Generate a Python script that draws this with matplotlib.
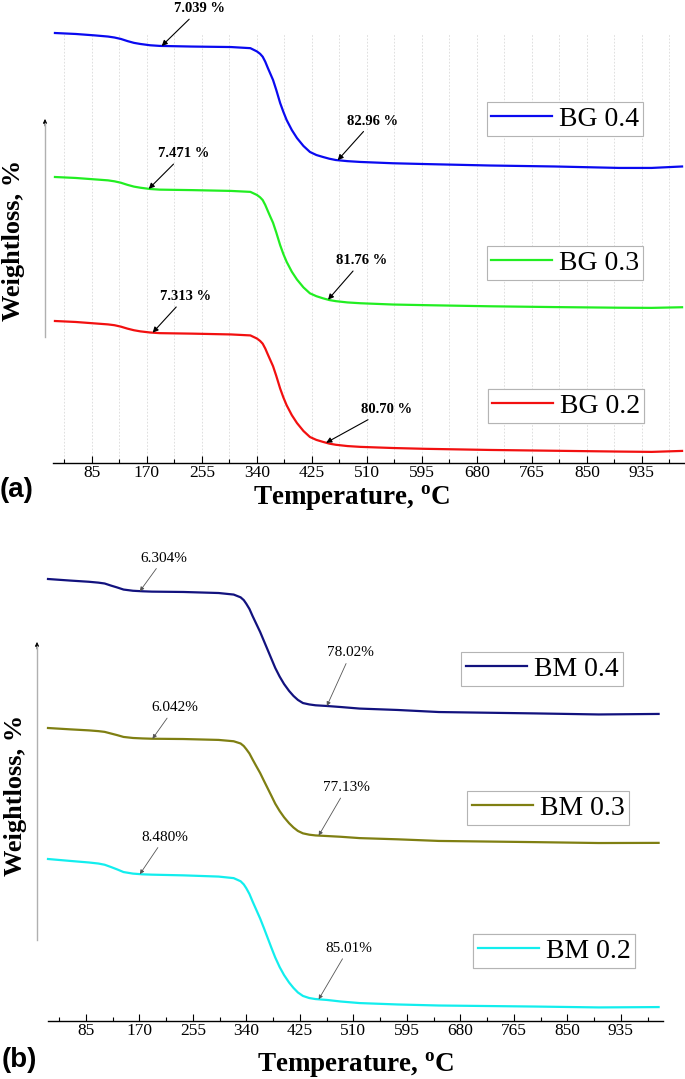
import numpy as np
import matplotlib
matplotlib.use('Agg')
import matplotlib.pyplot as plt
from matplotlib.lines import Line2D
from matplotlib.ticker import MultipleLocator

plt.rcParams['font.family'] = ['Liberation Serif', 'DejaVu Serif']
plt.rcParams['mathtext.fontset'] = 'custom'
plt.rcParams['mathtext.bf'] = 'Liberation Serif:bold'
plt.rcParams['mathtext.rm'] = 'Liberation Serif:bold'

# ---- data (weight %, start = 100) ----
temp_a = [28, 60, 90, 110, 120, 130, 140, 150, 160, 175, 190, 240, 300, 330, 340, 345, 349,
          353, 357, 361, 365, 370, 376, 381, 386, 394, 402, 412, 422, 432, 442, 452, 462,
          480, 500, 550, 600, 700, 800, 900, 950, 997]
bg04 = [100.0, 99.4, 98.5, 97.8, 97.2, 96.3, 95.0, 93.9, 93.2, 92.4, 92.0, 91.6, 91.3, 90.6,
        88.6, 87.1, 85.3, 82.2, 78.3, 74.6, 70.9, 64.7, 56.6, 51.1, 46.1, 39.9, 34.9, 30.0,
        26.3, 24.4, 23.2, 22.1, 21.3, 20.6, 20.1, 19.3, 18.8, 17.9, 17.3, 16.4, 16.4, 17.3]
bg03 = [100.0, 99.4, 98.5, 97.9, 97.3, 96.4, 95.1, 94.0, 93.3, 92.5, 92.1, 91.8, 91.3, 90.7,
        88.8, 87.3, 85.6, 82.5, 78.7, 75.0, 71.4, 65.3, 57.4, 51.8, 47.0, 40.8, 35.9, 31.0,
        27.3, 25.5, 24.2, 23.1, 22.4, 21.6, 21.1, 20.3, 19.9, 19.2, 18.7, 18.3, 18.2, 18.6]
bg02 = [100.0, 99.4, 98.5, 97.9, 97.4, 96.5, 95.3, 94.3, 93.6, 92.9, 92.5, 92.2, 91.7, 91.1,
        89.2, 87.7, 86.0, 83.0, 79.3, 75.7, 72.1, 66.1, 58.3, 52.8, 48.0, 41.9, 37.0, 32.1,
        28.4, 26.6, 25.4, 24.3, 23.6, 22.8, 22.3, 21.6, 21.1, 20.4, 19.9, 19.4, 19.2, 19.8]

temp_b = [25, 60, 90, 105, 115, 125, 135, 145, 160, 175, 190, 240, 296, 320, 331, 336, 340,
          345, 350, 356, 362, 368, 374, 380, 386, 393, 400, 408, 415, 422, 430, 440, 450,
          468, 490, 520, 580, 646, 800, 900, 995]
bm04 = [100.0, 99.1, 98.4, 97.9, 97.4, 96.2, 95.1, 93.9, 93.2, 92.9, 92.7, 92.5, 91.9, 91.0,
        89.4, 87.8, 85.7, 82.7, 78.6, 74.0, 69.4, 64.2, 59.0, 53.8, 48.6, 43.6, 39.3, 35.3,
        32.4, 30.1, 28.3, 27.5, 27.0, 26.6, 26.0, 25.1, 24.3, 23.1, 22.3, 21.7, 22.0]
bm03 = [100.0, 99.1, 98.4, 97.9, 97.4, 96.3, 95.2, 94.0, 93.3, 93.0, 92.8, 92.6, 92.0, 91.1,
        89.6, 87.9, 85.8, 82.9, 78.9, 74.3, 69.8, 64.6, 59.5, 54.4, 49.2, 44.3, 40.1, 36.1,
        33.2, 30.9, 29.3, 28.4, 27.9, 27.5, 27.0, 26.1, 25.3, 24.2, 23.4, 22.8, 22.9]
bm02 = [100.0, 98.9, 98.0, 97.4, 96.7, 95.4, 94.0, 92.5, 91.6, 91.2, 91.0, 90.6, 89.9, 89.0,
        87.2, 85.4, 83.2, 79.9, 75.6, 70.7, 65.8, 60.3, 54.6, 48.9, 43.4, 37.9, 33.3, 29.0,
        25.9, 23.3, 21.3, 20.1, 19.5, 19.0, 18.1, 17.2, 16.4, 15.8, 15.2, 14.7, 14.9]

names_a = ['BG 0.4', 'BG 0.3', 'BG 0.2']
names_b = ['BM 0.4', 'BM 0.3', 'BM 0.2']
# first and second weight-loss step labels, with the temperature the arrow points at
step1_a = ['7.039 %', '7.471 %', '7.313 %']
step1_a_T = [193, 173, 179]
step2_a = ['82.96 %', '81.76 %', '80.70 %']
step2_a_T = [465, 450, 447]
step1_b = ['6.304%', '6.042%', '8.480%']
step1_b_T = [171, 191, 171]
step2_b = ['78.02%', '77.13%', '85.01%']
step2_b_T = [468, 455, 455]
ticks = [85, 170, 255, 340, 425, 510, 595, 680, 765, 850, 935]

# ---- layout (pixels) ----
W, H = 685, 1079
fig = plt.figure(figsize=(W / 100, H / 100), dpi=100)


def box(l, t, r, b):
    return [l / W, 1 - b / H, (r - l) / W, (b - t) / H]


def fxy(x, y):
    return (x / W, 1 - y / H)


ax1 = fig.add_axes(box(53, 33, 684, 463))
ax2 = fig.add_axes(box(48, 570, 663, 1021))

for ax, xl, yh in [(ax1, (25, 1000), 430), (ax2, (25, 1002), 451)]:
    ax.set_xlim(*xl)
    ax.set_ylim(0, yh)
    for s in ['top', 'right', 'left']:
        ax.spines[s].set_visible(False)
    ax.spines['bottom'].set_linewidth(1.0)
    ax.set_xticks(ticks)
    ax.xaxis.set_minor_locator(MultipleLocator(42.5))
    ax.set_yticks([])
    ax.tick_params(axis='x', which='major', direction='in', length=5, width=0.8,
                   labelsize=12.5, pad=1.5)
    ax.tick_params(axis='x', which='minor', direction='in', length=3, width=0.8)

ax1.grid(True, axis='x', which='both', color='#d9d9d9', linestyle=(0, (2, 2)), lw=0.6)
ax1.set_axisbelow(True)

colors_a = ['#0a0af0', '#22ee22', '#f21010']
colors_b = ['#12127e', '#7f7f12', '#12eeee']
tops_a = [430, 286, 142]
scale_a = [1.614, 1.60, 1.62]
tops_b = [442, 293, 162]
scale_b = [1.73, 1.49, 1.74]
leg_a = [(565, 119), (565, 263), (566, 406)]
leg_b = [(542, 669), (548, 808), (554, 951)]


def panel(ax, temp, series, names, colors, tops, scales, legs, s1, s1T, s2, s2T, bold):
    for w, name, c, top, k, lc, t1, T1, t2, T2 in zip(series, names, colors, tops, scales, legs,
                                                       s1, s1T, s2, s2T):
        y = top + k * (np.array(w) - 100)
        ln, = ax.plot(temp, y, color=c, lw=1.6, clip_on=False, solid_joinstyle='round')
        leg = ax.legend(handles=[ln], labels=[name], loc='center',
                        bbox_to_anchor=fxy(*lc), bbox_transform=fig.transFigure,
                        prop={'family': 'Liberation Serif', 'size': 20},
                        fancybox=False, framealpha=1, edgecolor='#b4b4b4',
                        handlelength=2.2, handletextpad=0.25, borderpad=0.15)
        leg.get_frame().set_linewidth(0.8)
        ax.add_artist(leg)
        if bold:
            offs = [(38, 37), (35, 39)] if name == 'BG 0.4' else \
                   [(35, 35), (34, 39)] if name == 'BG 0.3' else [(33, 36), (60, 33)]
            aprops = dict(arrowstyle='-|>', color='black', lw=0.8, mutation_scale=8,
                          shrinkA=1, shrinkB=0)
            fkw = dict(fontsize=10.5, fontweight='bold')
        else:
            offs = [(24, 33), (24, 53)] if name == 'BM 0.4' else \
                   [(22, 31), (28, 48)] if name == 'BM 0.3' else [(25, 37), (30, 51)]
            aprops = dict(arrowstyle='-|>', color='#555555', lw=0.6, mutation_scale=6,
                          shrinkA=1, shrinkB=0)
            fkw = dict(fontsize=11)
        for txt, T, off in [(t1, T1, offs[0]), (t2, T2, offs[1])]:
            ax.annotate(txt, xy=(T, np.interp(T, temp, y)), xytext=off,
                        textcoords='offset pixels', ha='center', va='center',
                        arrowprops=aprops, annotation_clip=False, **fkw)


panel(ax1, temp_a, [bg04, bg03, bg02], names_a, colors_a, tops_a, scale_a, leg_a,
      step1_a, step1_a_T, step2_a, step2_a_T, True)
panel(ax2, temp_b, [bm04, bm03, bm02], names_b, colors_b, tops_b, scale_b, leg_b,
      step1_b, step1_b_T, step2_b, step2_b_T, False)

# y "axis" arrows
for x, y0, y1 in [(45, 337, 119), (37, 940, 642)]:
    fig.add_artist(Line2D([x / W, x / W], [1 - y0 / H, 1 - (y1 + 4) / H],
                          color='#b0b0b0', lw=1.0))
    ax1.annotate('', xy=fxy(x, y1), xytext=fxy(x, y1 + 7), xycoords='figure fraction',
                 textcoords='figure fraction', annotation_clip=False,
                 arrowprops=dict(arrowstyle='-|>', color='black', lw=0.6, mutation_scale=6,
                                 shrinkA=0, shrinkB=0))

# labels
for (x, y) in [(14, 240), (16, 795)]:
    fig.text(*fxy(x, y), 'Weightloss, %', rotation=90, ha='center', va='center',
             fontsize=19, fontweight='bold')
for (x, y) in [(352, 498), (356, 1065)]:
    fig.text(*fxy(x, y), r'Temperature, $^{\mathbf{o}}$C', ha='center', va='center',
             fontsize=19.5, fontweight='bold')
fig.text(*fxy(17, 490), '(a)', ha='center', va='center', fontsize=20, fontweight='bold',
         family='Liberation Sans')
fig.text(*fxy(19, 1060), '(b)', ha='center', va='center', fontsize=20, fontweight='bold',
         family='Liberation Sans')

fig.savefig('out.png', dpi=100)
